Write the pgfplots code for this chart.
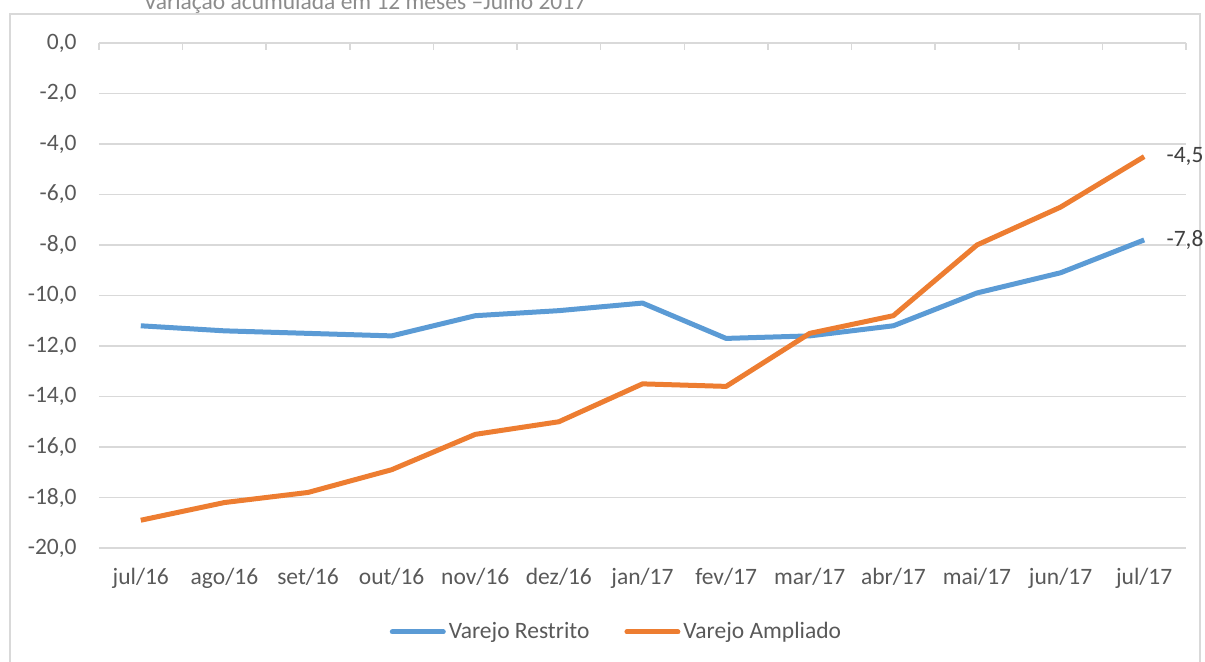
\documentclass[border=0pt]{standalone}
\usepackage{pgfplots}
\pgfplotsset{compat=1.18}
\usepackage{fontspec}
\setmainfont{Carlito}
\definecolor{cblue}{HTML}{5B9BD5}
\definecolor{corange}{HTML}{ED7D31}
\definecolor{gridc}{HTML}{D9D9D9}
\definecolor{txt}{HTML}{595959}
\definecolor{lbl}{HTML}{404040}
\definecolor{ttl}{HTML}{8C8C8C}
\newcommand{\cfont}{\fontsize{11.75}{14}\selectfont}
\begin{document}
\begin{tikzpicture}[x=1pt,y=1pt]
\useasboundingbox (0,0) rectangle (602.5,331);
\clip (0,0) rectangle (602.5,331);
\draw[gridc, line width=0.75pt] (5,-5) rectangle (600,324);
\node[anchor=base, font=\cfont, text=ttl, inner sep=0pt] at (182.5,326) {Variação acumulada em 12 meses –Julho 2017};
\begin{axis}[
  at={(49.5pt,57pt)}, anchor=south west,
  scale only axis, width=543.5pt, height=252.5pt,
  xmin=-0.5, xmax=12.5, ymin=-20, ymax=0,
  clip=false,
  axis line style={draw=none},
  major tick length=0pt,
  xtick={0,...,12},
  xticklabels={jul/16,ago/16,set/16,out/16,nov/16,dez/16,jan/17,fev/17,mar/17,abr/17,mai/17,jun/17,jul/17},
  ytick={-20,-18,...,0},
  yticklabels={{-20,0},{-18,0},{-16,0},{-14,0},{-12,0},{-10,0},{-8,0},{-6,0},{-4,0},{-2,0},{0,0}},
  ymajorgrids, grid style={gridc, line width=0.75pt},
  yticklabel style={anchor=east, inner sep=0pt, xshift=-11pt, font=\cfont, text=txt},
  xticklabel style={anchor=base, inner sep=0pt, yshift=-18.5pt, font=\cfont, text=txt},
  legend columns=2,
  legend style={at={(0.4765,-0.1663)}, anchor=center, draw=none, fill=none, inner sep=0pt,
    font=\cfont, text=txt, nodes={inner sep=1.5pt},
    /tikz/every even column/.append style={column sep=16pt}},
  legend image code/.code={\draw[#1, line width=2.5pt, line cap=round] (0pt,0pt) -- (25.5pt,0pt);},
]
\addplot[cblue, line width=2.5pt, line join=round] coordinates {
  (0,-11.2) (1,-11.4) (2,-11.5) (3,-11.6) (4,-10.8) (5,-10.6) (6,-10.3)
  (7,-11.7) (8,-11.6) (9,-11.2) (10,-9.9) (11,-9.1) (12,-7.8)};
\addlegendentry{Varejo Restrito}
\addplot[corange, line width=2.5pt, line join=round] coordinates {
  (0,-18.9) (1,-18.2) (2,-17.8) (3,-16.9) (4,-15.5) (5,-15.0) (6,-13.5)
  (7,-13.6) (8,-11.5) (9,-10.8) (10,-8.0) (11,-6.5) (12,-4.5)};
\addlegendentry{Varejo Ampliado}
\node[anchor=west, inner sep=0pt, font=\cfont, text=lbl, xshift=11pt] at (axis cs:12,-4.5) {-4,5};
\node[anchor=west, inner sep=0pt, font=\cfont, text=lbl, xshift=11pt] at (axis cs:12,-7.8) {-7,8};
\end{axis}
\foreach \k in {0,...,13} \draw[gridc, line width=0.75pt] (49.5+41.8077*\k, 309.5) -- ++(0,-3.5);
\end{tikzpicture}
\end{document}
